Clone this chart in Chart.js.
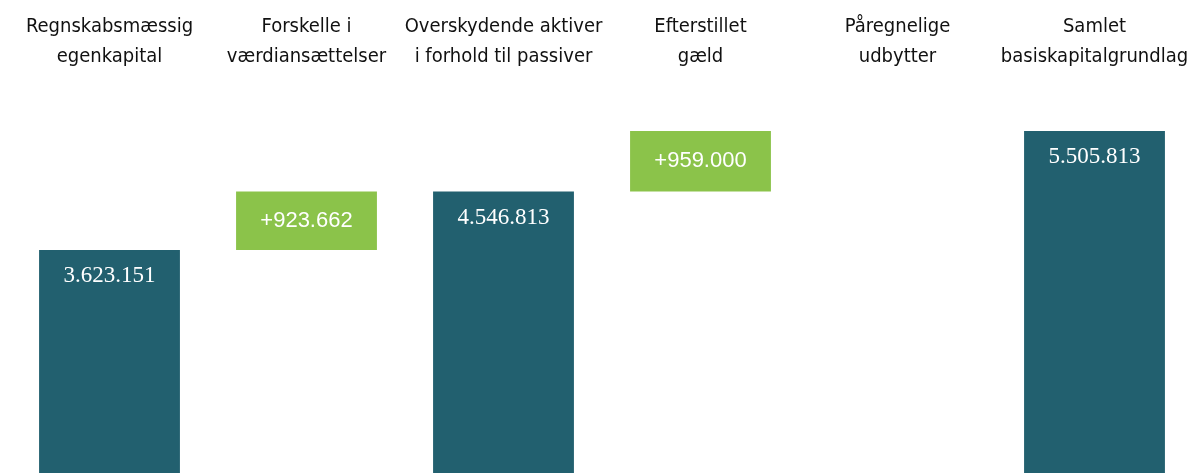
<!DOCTYPE html>
<html>
<head>
<meta charset="utf-8">
<script src="https://cdn.jsdelivr.net/npm/chart.js@4.4.1/dist/chart.umd.min.js"></script>
<style>
  html, body { margin: 0; padding: 0; background: #fff; overflow: hidden; }
</style>
</head>
<body>
<canvas id="waterfall" width="1193" height="473"></canvas>
<script>
// categories (multi-line labels)
const categories = [
  ["Regnskabsmæssig", "egenkapital"],
  ["Forskelle i", "værdiansættelser"],
  ["Overskydende aktiver", "i forhold til passiver"],
  ["Efterstillet", "gæld"],
  ["Påregnelige", "udbytter"],
  ["Samlet", "basiskapitalgrundlag"]
];
// amounts: totals are absolute, deltas are changes
const amounts = [3623151, 923662, 4546813, 959000, 0, 5505813];
const kinds = ["total", "delta", "total", "delta", "delta", "total"];

const darkColor = "#22606F";
const greenColor = "#8BC34A";

// build floating ranges for the waterfall
let running = 0;
const ranges = [];
for (let i = 0; i < amounts.length; i++) {
  if (kinds[i] === "total") {
    running = amounts[i];
    ranges.push([0, amounts[i]]);
  } else {
    ranges.push([running, running + amounts[i]]);
    running += amounts[i];
  }
}
const colors = kinds.map(k => (k === "total" ? darkColor : greenColor));

const fmt = v => v.toString().replace(/\B(?=(\d{3})+(?!\d))/g, ".");

const valueLabels = {
  id: "valueLabels",
  afterDatasetsDraw(chart) {
    const ctx = chart.ctx;
    const meta = chart.getDatasetMeta(0);
    ctx.save();
    ctx.fillStyle = "#ffffff";
    ctx.textAlign = "center";
    ctx.textBaseline = "middle";
    meta.data.forEach((bar, i) => {
      if (amounts[i] === 0) return;
      if (kinds[i] === "total") {
        ctx.font = "23px 'Liberation Serif', 'DejaVu Serif', serif";
        ctx.fillText(fmt(amounts[i]), bar.x, bar.y + 26);
      } else {
        ctx.font = "22px 'Liberation Sans', Arial, sans-serif";
        ctx.fillText("+" + fmt(amounts[i]), bar.x, (bar.y + bar.base) / 2);
      }
    });
    ctx.restore();
  }
};

const chart = new Chart(document.getElementById("waterfall").getContext("2d"), {
  type: "bar",
  data: {
    labels: categories,
    datasets: [{
      data: ranges,
      backgroundColor: colors,
      borderWidth: 0,
      barPercentage: 0.715,
      categoryPercentage: 1
    }]
  },
  options: {
    responsive: false,
    animation: false,
    layout: { padding: { left: 11, right: -2, top: 0, bottom: 0 } },
    plugins: {
      legend: { display: false },
      tooltip: { enabled: false }
    },
    scales: {
      x: {
        position: "top",
        grid: { display: false },
        border: { display: false },
        afterFit(scale) { scale.height = 80; },
        ticks: {
          autoSkip: false,
          maxRotation: 0,
          color: "#111111",
          padding: 0,
          font: { family: "'Liberation Sans Narrow', 'DejaVu Sans Condensed', Roboto, sans-serif", size: 20, lineHeight: 1.5 }
        }
      },
      y: {
        display: false,
        min: 95200,
        max: 6312700
      }
    }
  },
  plugins: [valueLabels]
});
</script>
</body>
</html>
